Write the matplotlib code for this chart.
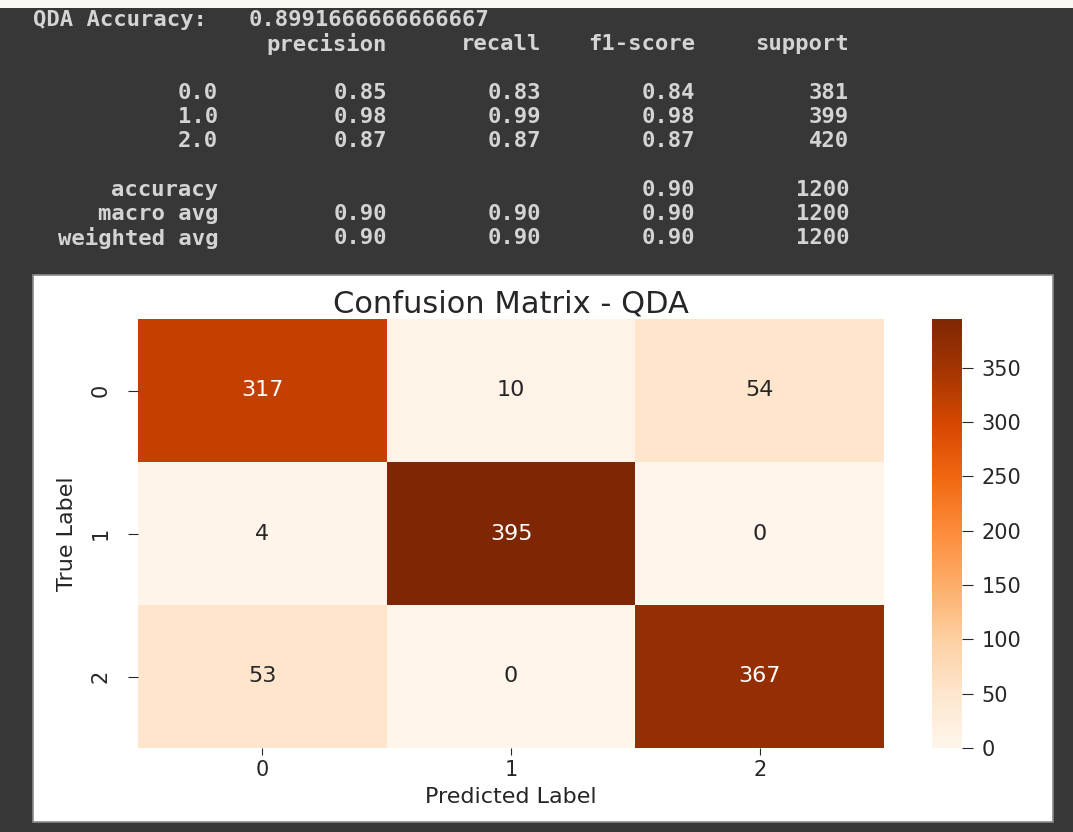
import matplotlib
matplotlib.use("Agg")
import matplotlib.pyplot as plt
from matplotlib.patches import Rectangle
import numpy as np
import seaborn as sns

W, H = 1073, 832

# classification report values
qda_accuracy = 0.8991666666666667
class_names = ["0.0", "1.0", "2.0"]
precision = [0.85, 0.98, 0.87]
recall = [0.83, 0.99, 0.87]
f1_score = [0.84, 0.98, 0.87]
support = [381, 399, 420]
accuracy = 0.90
total = 1200
macro_avg = [0.90, 0.90, 0.90]
weighted_avg = [0.90, 0.90, 0.90]

# confusion matrix
labels = ["0", "1", "2"]
cm = np.array([[317, 10, 54],
               [4, 395, 0],
               [53, 0, 367]])


def fx(x):
    return x / W


def fy(y):
    return 1 - y / H


def box(x0, y0, x1, y1):
    return [fx(x0), fy(y1), (x1 - x0) / W, (y1 - y0) / H]


fig = plt.figure(figsize=(W / 100, H / 100), dpi=100, facecolor="#373737")

# light strip along the top edge
fig.patches.append(Rectangle((0, fy(8)), 1, 8 / H, transform=fig.transFigure,
                             facecolor="#fbf8f4", edgecolor="none", zorder=-2))

# text report
mono = dict(family="DejaVu Sans Mono", fontsize=16, fontweight="bold", color="#d4d4d4")
label_x = 218
col_x = [387, 541, 695, 849]

fig.text(fx(33), fy(20), "QDA Accuracy:", ha="left", va="center", **mono)
fig.text(fx(249), fy(20), repr(qda_accuracy), ha="left", va="center", **mono)

for x, name in zip(col_x, ["precision", "recall", "f1-score", "support"]):
    fig.text(fx(x), fy(44), name, ha="right", va="center", **mono)

for i, name in enumerate(class_names):
    y = 93 + 24 * i
    fig.text(fx(label_x), fy(y), name, ha="right", va="center", **mono)
    vals = [f"{precision[i]:.2f}", f"{recall[i]:.2f}", f"{f1_score[i]:.2f}", str(support[i])]
    for x, v in zip(col_x, vals):
        fig.text(fx(x), fy(y), v, ha="right", va="center", **mono)

fig.text(fx(label_x), fy(190), "accuracy", ha="right", va="center", **mono)
fig.text(fx(col_x[2]), fy(190), f"{accuracy:.2f}", ha="right", va="center", **mono)
fig.text(fx(col_x[3]), fy(190), str(total), ha="right", va="center", **mono)

for y, name, avg in [(214, "macro avg", macro_avg), (238, "weighted avg", weighted_avg)]:
    fig.text(fx(label_x), fy(y), name, ha="right", va="center", **mono)
    for x, v in zip(col_x, [f"{a:.2f}" for a in avg] + [str(total)]):
        fig.text(fx(x), fy(y), v, ha="right", va="center", **mono)

# white panel holding the heatmap
fig.patches.append(Rectangle((fx(33), fy(822)), 1020 / W, 547 / H, transform=fig.transFigure,
                             facecolor="white", edgecolor="#8a8a8a", linewidth=1.2, zorder=-1))

ax = fig.add_axes(box(138, 319, 884, 748))
cax = fig.add_axes(box(932, 319, 962, 748))

sns.heatmap(cm, annot=True, fmt="d", cmap="Oranges", ax=ax, cbar_ax=cax,
            xticklabels=labels, yticklabels=labels,
            annot_kws={"fontsize": 16})

ink = "#262626"
ax.set_title("Confusion Matrix - QDA", fontsize=22, pad=2, color=ink)
ax.set_xlabel("Predicted Label", fontsize=16, labelpad=5, color=ink)
ax.set_ylabel("True Label", fontsize=16, labelpad=10, color=ink)
ax.tick_params(axis="x", labelsize=15, length=5, pad=4, colors=ink)
ax.tick_params(axis="y", labelsize=15, length=7.5, pad=12, colors=ink)
plt.setp(ax.get_yticklabels(), rotation=90, va="center")
cax.tick_params(labelsize=15, length=8, pad=6, colors=ink)

fig.savefig("out.png", dpi=100, facecolor=fig.get_facecolor())
